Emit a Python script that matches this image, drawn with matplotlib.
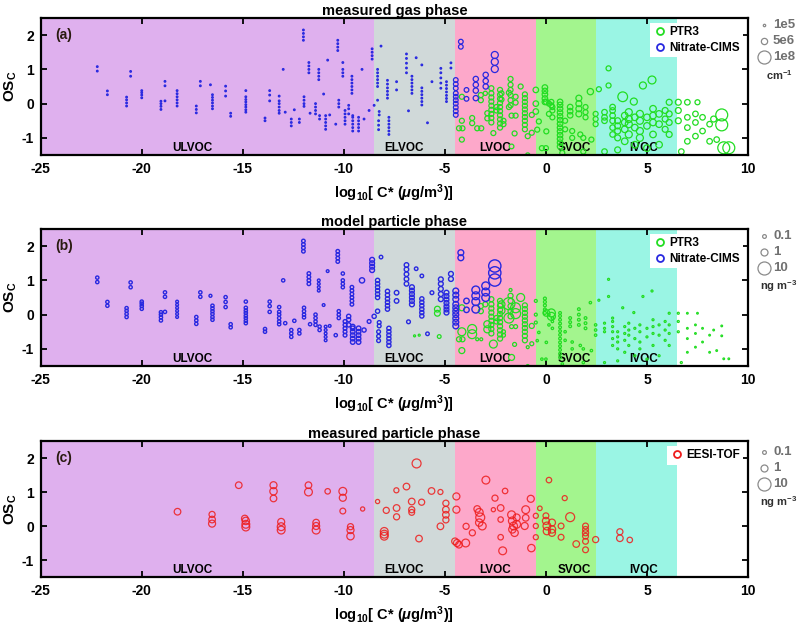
import numpy as np
import matplotlib

matplotlib.use("Agg")  # Non-interactive backend
import matplotlib.pyplot as plt
from matplotlib.lines import Line2D

plt.rcParams["font.family"] = "Liberation Sans"
plt.rcParams["font.weight"] = "bold"
plt.rcParams["axes.unicode_minus"] = False
plt.rcParams["mathtext.fontset"] = "custom"
plt.rcParams["mathtext.rm"] = "Liberation Sans:bold"
plt.rcParams["mathtext.it"] = "Liberation Sans:italic:bold"
plt.rcParams["mathtext.bf"] = "Liberation Sans:bold"

# volatility classes (log10 C* edges)
class_names = ["ULVOC", "ELVOC", "LVOC", "SVOC", "IVOC"]
class_edges = [-25, -8.5, -4.5, -0.5, 2.5, 6.5]
class_colors = ["#dfb0ee", "#d0d9d9", "#fda8ca", "#a3f58e", "#9af5e4"]

panel_titles = ["measured gas phase", "model particle phase", "measured particle phase"]
panel_letters = ["(a)", "(b)", "(c)"]

gas_legend_values = [1e5, 5e6, 1e8]
gas_legend_labels = ["1e5", "5e6", "1e8"]
part_legend_values = [0.1, 1, 10]
part_legend_labels = ["0.1", "1", "10"]

# Nitrate-CIMS: (log10 C*, [OSc ...], gas conc cm-3, model particle ng m-3)
nitrate = [
    (-22.2, [0.95, 1.08], 2e4, 0.06),
    (-21.7, [0.26, 0.37], 2e4, 0.06),
    (-20.75, [-0.07, 0.02, 0.11, 0.19], 2e4, 0.06),
    (-20.55, [0.8, 0.94], 2e4, 0.06),
    (-20.0, [0.17, 0.25, 0.32, 0.38], 2e4, 0.06),
    (-19.05, [-0.17, -0.08, 0.0, 0.07], 2e4, 0.06),
    (-18.85, [0.08, 0.52, 0.65], 2e4, 0.06),
    (-18.25, [-0.07, 0.02, 0.11, 0.2, 0.29, 0.38], 2e4, 0.03),
    (-17.3, [-0.27, -0.17, -0.07], 2e4, 0.06),
    (-17.1, [0.52, 0.65], 2e4, 0.06),
    (-16.6, [0.55], 2e4, 0.04),
    (-16.5, [-0.15, -0.07, 0.02, 0.1, 0.18, 0.26], 2e4, 0.06),
    (-15.85, [0.22, 0.37, 0.51], 2e4, 0.06),
    (-15.6, [-0.37, -0.28], 2e4, 0.06),
    (-14.85, [-0.25, -0.18, -0.1, -0.03, 0.05, 0.12, 0.2, 0.38], 2e4, 0.06),
    (-13.9, [-0.5, -0.42], 2e4, 0.06),
    (-13.67, [0.08, 0.25, 0.38], 2e4, 0.06),
    (-13.2, [-0.28, -0.2, -0.1, 0.0, 0.08, 0.22], 2e4, 0.06),
    (-13.0, [1.0], 2e4, 0.06),
    (-12.9, [-0.25], 2e4, 0.06),
    (-12.6, [-0.65, -0.55, -0.45], 2e4, 0.06),
    (-12.45, [-0.18], 2e4, 0.06),
    (-12.2, [-0.55, -0.45], 2e4, 0.06),
    (-12.0, [1.85, 1.95, 2.05, 2.15], 2e4, 0.08),
    (-11.97, [-0.08, 0.0, 0.1, 0.2], 2e4, 0.06),
    (-11.73, [0.9, 1.0, 1.1, 1.2], 2e4, 0.08),
    (-11.67, [-0.28], 2e4, 0.06),
    (-11.4, [-0.3, -0.2, -0.1, 0.0], 2e4, 0.06),
    (-11.24, [0.7, 0.8, 0.9, 1.0], 2e4, 0.03),
    (-11.2, [-0.45, -0.35], 2e4, 0.06),
    (-11.0, [0.28], 2e4, 0.03),
    (-10.9, [-0.75, -0.65, -0.55, -0.45, -0.35], 2e4, 0.03),
    (-10.8, [1.27], 2e4, 0.03),
    (-10.7, [-0.33], 2e4, 0.03),
    (-10.4, [-0.6], 2e4, 0.06),
    (-10.3, [1.55, 1.65, 1.75, 1.85], 2e4, 0.08),
    (-10.25, [-0.1, 0.0, 0.1], 2e4, 0.06),
    (-10.05, [0.8, 0.9, 1.0, 1.2], 2e4, 0.06),
    (-9.94, [-0.6, -0.5, -0.4, -0.3, -0.2], 2e4, 0.1),
    (-9.76, [-0.3, -0.15, -0.05], 2e4, 0.15),
    (-9.6, [0.3, 0.4, 0.5, 0.6, 0.7, 0.8], 2e4, 0.08),
    (-9.56, [-0.8, -0.7, -0.6, -0.5, -0.4, -0.35], 2e4, 0.2),
    (-9.27, [-0.8, -0.7, -0.6, -0.5, -0.4], 2e4, 0.2),
    (-9.1, [1.0], 2e4, 0.35),
    (-9.0, [-0.45], 2e4, 0.15),
    (-8.75, [-0.2], 2e4, 0.1),
    (-8.6, [1.3, 1.4, 1.5, 1.6], 2e4, 0.25),
    (-8.5, [-0.05], 2e4, 0.15),
    (-8.33, [0.1, 0.5, 0.6, 0.7, 0.8, 0.9, 1.0], 2e4, 0.15),
    (-8.16, [1.68], 2e4, 0.08),
    (-8.25, [-0.33, -0.23], 2e4, 0.1),
    (-8.28, [-0.76, -0.63, -0.5], 2e4, 0.1),
    (-7.84, [0.16, 0.26, 0.36, 0.46, 0.57, 0.68], 2e4, 0.15),
    (-7.77, [-0.9, -0.8, -0.7, -0.6, -0.5, -0.4], 2e4, 0.15),
    (-7.39, [0.4, 0.64], 2e4, 0.2),
    (-6.9, [0.9, 1.04, 1.18, 1.32, 1.45], 2e4, 0.2),
    (-6.8, [-0.21], 2e4, 0.1),
    (-6.63, [0.3, 0.4, 0.5, 0.6, 0.7, 0.8], 2e4, 0.25),
    (-6.42, [1.34], 2e4, 0.08),
    (-6.14, [1.13], 2e4, 0.08),
    (-6.14, [-0.04, 0.06, 0.16, 0.26, 0.36, 0.46], 2e4, 0.15),
    (-5.86, [-0.56], 2e4, 0.08),
    (-5.64, [0.64], 2e4, 0.1),
    (-5.2, [0.45, 0.6, 0.75, 0.9, 1.03], 2e4, 0.25),
    (-4.92, [0.06, 0.15, 0.24, 0.34, 0.44, 0.54, 0.64], 2e4, 0.25),
    (-4.7, [1.04, 1.19], 2e4, 0.25),
    (-4.46, [-0.33, -0.22, -0.11, 0.0, 0.1, 0.2, 0.3, 0.45, 0.57, 0.69], 1.5e6, 0.5),
    (-4.21, [1.66, 1.81], 1.5e6, 0.5),
    (-3.93, [0.14, 0.4], 1.5e6, 0.4),
    (-3.47, [0.16, 0.38, 0.55, 0.72], 2.5e6, 1.5),
    (-2.98, [0.5, 0.66, 0.84], 2.5e6, 1.5),
    (-2.53, [1.01, 1.22, 1.42], 8e6, 8.0),
]

# PTR3: (log10 C*, [OSc ...], gas conc cm-3, model particle ng m-3)
ptr3 = [
    (-6.5, [-0.62], 0, 0.01),
    (-6.27, [-0.6], 0, 0.01),
    (-5.37, [0.04, 0.16], 0, 0.5),
    (-5.28, [-0.64], 0, 0.1),
    (-4.16, [0.2], 2e6, 0.56),
    (-4.16, [-0.5], 2e6, 1.6),
    (-4.3, [-0.72], 2e6, 0.3),
    (-4.13, [-0.72], 2e6, 0.3),
    (-4.16, [-1.05], 2e6, 0.56),
    (-3.65, [-0.42, -0.57], 2e6, 2.5),
    (-3.4, [-0.72], 2e6, 0.04),
    (-3.2, [-0.72], 2e6, 0.04),
    (-3.22, [0.1, 0.25], 2e6, 0.3),
    (-3.0, [0.3], 1e6, 0.3),
    (-2.9, [-0.28, -0.43], 2e6, 1.0),
    (-2.7, [-0.55, -0.42, -0.3, -0.18, -0.06, 0.06, 0.18, 0.3, 0.45], 2e6, 0.3),
    (-2.6, [-0.86], 2e6, 1.6),
    (-2.45, [-0.2, -0.1], 2e6, 0.3),
    (-2.27, [-0.7, -0.58, -0.46, -0.34, -0.22, -0.1, 0.02, 0.14, 0.26, 0.4], 2e6, 0.3),
    (-2.1, [-0.6, -0.5], 2e6, 0.12),
    (-2.2, [0.12, 0.3], 2e6, 1.0),
    (-1.83, [0.32], 2e6, 7.4),
    (-1.83, [-0.1], 2e6, 3.7),
    (-1.75, [0.72], 2e6, 0.04),
    (-1.75, [-0.05, 0.1, 0.25, 0.4, 0.55], 2e6, 0.3),
    (-1.7, [-0.35], 2e6, 0.12),
    (-1.5, [-0.35], 2e6, 0.12),
    (-1.5, [0.03, 0.2], 2e6, 3.7),
    (-1.7, [-1.25], 1.5e6, 0.56),
    (-1.55, [-0.87], 2e6, 0.12),
    (-1.25, [0.5], 2e6, 1.6),
    (-1.04, [-0.75, -0.62, -0.5, -0.39, -0.28, -0.17, -0.06, 0.05, 0.16, 0.27], 2e6, 0.3),
    (-0.9, [-0.95], 2e6, 0.04),
    (-0.9, [-1.5], 1e6, 0.04),
    (-0.7, [-0.33], 2e6, 0.3),
    (-0.7, [-0.85], 2e6, 0.12),
    (-0.5, [0.4, 0.0, -0.23], 3e6, 0.04),
    (-0.35, [-0.52], 2e6, 0.02),
    (-0.43, [-0.76], 2e6, 0.02),
    (-0.2, [-1.3], 2e6, 0.02),
    (0.0, [-1.3], 2e6, 0.02),
    (-0.05, [0.05, 0.15, 0.27, 0.37, 0.47], 3e6, 0.04),
    (0.02, [0.05], 3e6, 0.8),
    (0.15, [0.0, -0.3], 2e6, 0.02),
    (0.27, [0.05, -0.05], 2e6, 1.6),
    (0.32, [-0.1, -0.2, -0.4], 2e6, 0.02),
    (0.02, [-0.81], 2e6, 0.02),
    (0.7, [-1.25, -1.14, -1.03, -0.92, -0.81, -0.7, -0.59, -0.48, -0.37, -0.26, -0.15, -0.04, 0.05], 3e6, 0.03),
    (0.95, [-0.5, -0.75], 2e6, 0.02),
    (0.81, [-1.44], 2e6, 0.02),
    (1.2, [-0.1, -0.22, -0.34], 3e6, 0.03),
    (1.3, [-0.8, -1.0], 2e6, 0.02),
    (1.63, [0.16, 0.0, -0.15, -0.3], 4e6, 0.03),
    (1.7, [-0.9], 2e6, 0.02),
    (1.85, [-1.0, -1.4], 2e6, 0.02),
    (1.96, [-0.1, -0.25, -0.4], 2e6, 0.03),
    (2.2, [0.35], 5e6, 0.02),
    (2.25, [-1.05], 2e6, 0.02),
    (2.46, [-0.3, -0.45, -0.6], 2e6, 0.02),
    (2.62, [0.42], 2e6, 0.01),
    (3.1, [1.03], 2e6, 0.01),
    (3.1, [0.53], 2e6, 0.01),
    (2.9, [-0.25, -0.4, -0.5, -1.4], 3e6, 0.01),
    (3.3, [-0.1, -0.2, -0.35, -0.5, -0.7, -0.9], 3e6, 0.01),
    (3.55, [-0.5, -0.65, -0.8, -1.0, -1.35], 4e6, 0.01),
    (3.8, [0.2], 3e7, 0.01),
    (3.9, [-0.35, -0.55, -0.75, -1.1], 6e6, 0.01),
    (4.1, [-0.25, -0.45, -0.6, -0.9], 8e6, 0.01),
    (4.35, [0.06], 8e6, 0.01),
    (4.4, [-0.4, -0.7, -1.2], 6e6, 0.01),
    (4.65, [-0.3, -0.5, -0.8, -1.0], 8e6, 0.01),
    (4.8, [0.53], 8e6, 0.01),
    (5.0, [-0.4, -0.65, -1.3], 6e6, 0.01),
    (5.25, [0.69], 1.3e7, 0.01),
    (5.3, [-0.15, -0.35, -0.55, -0.9], 6e6, 0.01),
    (5.6, [-0.3, -0.6, -1.2], 6e6, 0.01),
    (5.9, [-0.2, -0.45, -0.75], 4e6, 0.01),
    (6.1, [0.04, -0.3, -0.55, -0.9], 4e6, 0.01),
    (6.55, [0.04, -0.2, -0.5], 4e6, 0.01),
    (6.7, [-1.4], 3e6, 0.01),
    (7.0, [0.04, -0.4, -0.7, -1.1], 3e6, 0.005),
    (7.5, [0.04], 2e6, 0.005),
    (7.4, [-0.3, -0.55, -0.95], 3e6, 0.005),
    (7.75, [-0.4, -0.8], 3e6, 0.005),
    (8.1, [-0.6, -1.1], 3e6, 0.005),
    (8.3, [-0.45], 4e6, 0.005),
    (8.7, [-0.33], 7e7, 0.005),
    (8.7, [-0.62], 7e7, 0.005),
    (8.45, [-1.05], 3e6, 0.005),
    (8.8, [-1.29], 7e7, 0.005),
    (9.05, [-1.29], 7e7, 0.005),
]

# EESI-TOF measured particle phase: log10 C*, OSc, conc (ng m-3)
eesi_logc = [
    -18.23, -16.52, -16.52, -16.52, -15.2, -14.9, -14.85, -14.85, -14.85,
    -13.48, -13.48, -13.48, -13.1, -13.1, -13.1, -11.75, -11.75, -11.37, -11.37, -11.37,
    -10.8, -10.05, -10.05, -10.05, -9.67, -9.67, -9.67, -9.07, -8.33, -8.0, -8.0, -8.0,
    -7.9, -7.4, -7.39, -7.39, -6.9, -6.64, -6.64, -6.64, -6.4, -6.28, -6.15, -5.66,
    -5.22, -5.22, -4.95, -4.95, -4.95, -4.95, -4.43, -4.43, -4.5, -4.4, -4.3, -3.97,
    -3.95, -3.64, -2.97, -3.4, -3.3, -3.25, -3.3, -3.15, -2.6, -2.52, -2.24, -2.24,
    -2.24, -2.14, -2.02, -1.7, -1.66, -1.6, -1.66, -1.55, -1.45, -1.45, -1.0, -1.0,
    -1.05, -0.75, -0.72, -0.5, -0.5, -0.5, -0.3, 0.15, 0.93, 0.0, 0.0, 0.05, 0.05,
    0.3, 0.3, 0.3, 0.75, 0.75, 1.2, 1.5, 1.96, 1.96, 1.96, 1.96, 1.96, 1.96, 2.46,
    3.66, 3.66, 4.15,
]
eesi_osc = [
    0.42, 0.34, 0.19, 0.07, 1.2, 0.22, 0.15, 0.05, -0.03,
    1.2, 1.02, 0.81, 0.12, -0.02, -0.12, 1.2, 1.0, 0.1, 0.0, -0.12,
    1.02, 1.02, 0.83, 0.44, -0.02, -0.12, -0.3, 0.5, 0.72, -0.16, -0.24, -0.3,
    0.46, 1.05, 0.53, 0.27, 1.16, 0.72, 0.48, 0.4, 1.84, -0.37, 0.7, 1.03,
    1.0, -0.01, 0.67, 0.48, 0.33, 0.18, 0.87, 0.48, -0.45, -0.5, -0.55, -0.5,
    -0.01, -0.2, 1.35, 0.5, 0.4, 0.25, 0.1, 0.0, 0.48, 0.82, 0.53, 0.19,
    -0.33, -0.73, 1.03, 0.33, 0.15, 0.0, -0.1, -0.2, 0.25, 0.05, 0.48, 0.24,
    0.0, 0.8, -0.65, 0.3, 0.0, -0.33, 0.52, 1.35, 0.82, 0.3, 0.15, 0.0, -0.15,
    0.1, -0.1, -0.2, 0.0, -0.33, 0.26, -0.53, 0.0, -0.1, -0.2, -0.3, -0.45, -0.7, -0.4,
    -0.17, -0.36, -0.41,
]
eesi_conc = [
    0.8, 0.6, 0.8, 1.0, 0.8, 0.8, 1.2, 1.5, 1.5,
    1.0, 1.2, 0.8, 1.0, 1.5, 1.5, 0.8, 1.5, 0.8, 1.0, 1.5,
    0.4, 1.5, 1.0, 0.5, 0.6, 1.0, 1.2, 0.15, 0.15, 1.5, 1.5, 1.5,
    0.6, 0.3, 0.8, 0.6, 0.8, 0.8, 0.6, 0.5, 2.5, 0.8, 0.6, 0.8,
    0.3, 0.8, 0.6, 0.8, 0.8, 0.6, 1.0, 1.0, 0.8, 1.0, 0.8, 1.5,
    0.6, 0.6, 1.5, 0.8, 1.5, 2.5, 1.2, 1.5, 0.15, 0.6, 0.8, 0.4,
    0.4, 1.5, 0.4, 1.5, 1.5, 1.5, 1.2, 1.2, 1.0, 1.5, 1.5, 0.8,
    1.0, 1.0, 1.2, 0.3, 0.3, 0.3, 0.2, 0.4, 0.3, 0.5, 1.0, 1.5, 1.2,
    1.0, 1.2, 1.0, 0.5, 0.5, 2.5, 0.8, 0.5, 0.5, 0.6, 0.5, 0.5, 0.5, 0.6,
    0.6, 0.8, 0.4,
]

GREEN = "#22dd22"
BLUE = "#2828e0"
RED = "#ee1c1c"
FIG_W, FIG_H = 798, 628
DPI = 100


def gas_area(c):
    # circle radius in pixels grows with concentration
    r = 1.2 * (np.asarray(c, dtype=float) / 1e5) ** 0.245
    return (2 * r * 72 / DPI) ** 2


def part_area(c):
    r = 3.5 * np.asarray(c, dtype=float) ** 0.27
    return (2 * r * 72 / DPI) ** 2


def expand(stacks):
    xs, ys, gas, part = [], [], [], []
    for x, osc, g, p in stacks:
        for y in osc:
            xs.append(x)
            ys.append(y)
            gas.append(g)
            part.append(p)
    return np.array(xs), np.array(ys), np.array(gas), np.array(part)


def fig_pos(px, py):
    return px / FIG_W, 1 - py / FIG_H


def setup_axes(ax, title, letter):
    for i, name in enumerate(class_names):
        ax.axvspan(class_edges[i], class_edges[i + 1], color=class_colors[i], lw=0, zorder=0)
    label_x = [-17.5, -7.0, -2.5, 1.4, 4.85]
    for name, lx in zip(class_names, label_x):
        ax.text(lx, -1.3, name, ha="center", va="center", fontsize=8.5, fontweight="bold", zorder=1)
    ax.text(-24.3, 2.0, letter, ha="left", va="center", fontsize=10, fontweight="bold", color="#2a1a10")
    ax.set_xlim(-25, 10)
    ax.set_ylim(-1.5, 2.5)
    ax.set_xticks(np.arange(-25, 11, 5))
    ax.set_yticks([-1, 0, 1, 2])
    ax.tick_params(direction="in", top=True, right=True, length=4, width=1.3,
                   labelsize=10, pad=5)
    for lab in ax.get_xticklabels() + ax.get_yticklabels():
        lab.set_fontweight("bold")
    for sp in ax.spines.values():
        sp.set_linewidth(1.6)
        sp.set_zorder(5)
    ax.set_title(title, fontsize=10.5, fontweight="bold", pad=2)
    ax.set_xlabel(r"log$_{10}$[ C* ($\mu$g/m$^3$)]", fontsize=10.5, fontweight="bold", labelpad=5)
    ax.set_ylabel(r"OS$_\mathrm{C}$", fontsize=11, fontweight="bold")
    ax.yaxis.set_label_coords(-0.03, 0.5)


def size_legend(fig, values, labels, unit, area_fn, top_py):
    for i, (v, lab) in enumerate(zip(values, labels)):
        py = top_py + 16 * i
        x0, y0 = fig_pos(764, py)
        fig.add_artist(Line2D([x0], [y0], marker="o", ls="none", mfc="none", mec="#8a8a8a",
                              mew=0.9, markersize=np.sqrt(area_fn(v)), transform=fig.transFigure))
        x1, _ = fig_pos(773, py)
        fig.text(x1, y0, lab, ha="left", va="center", fontsize=9.5, fontweight="bold", color="#707070")
    xu, yu = fig_pos(779, top_py + 50)
    fig.text(xu, yu, unit, ha="center", va="center", fontsize=8, fontweight="bold", color="#303030")


def main():
    fig = plt.figure(figsize=(FIG_W / DPI, FIG_H / DPI), dpi=DPI)
    left, width = 40.7 / FIG_W, (748 - 40.7) / FIG_W
    tops = [18, 229, 441]
    bottoms = [155, 366, 577]
    axes = []
    for t, b in zip(tops, bottoms):
        axes.append(fig.add_axes([left, 1 - b / FIG_H, width, (b - t) / FIG_H]))

    nx, ny, ngas, npart = expand(nitrate)
    px_, py_, pgas, ppart = expand(ptr3)

    # (a) measured gas phase
    ax = axes[0]
    setup_axes(ax, panel_titles[0], panel_letters[0])
    m = pgas > 0
    ax.scatter(px_[m], py_[m], s=gas_area(pgas[m]), facecolors="none", edgecolors=GREEN,
               linewidths=0.9, zorder=2)
    ax.scatter(nx, ny, s=gas_area(ngas), facecolors="none", edgecolors=BLUE,
               linewidths=0.9, zorder=3)

    # (b) model particle phase
    ax = axes[1]
    setup_axes(ax, panel_titles[1], panel_letters[1])
    ax.scatter(px_, py_, s=part_area(ppart), facecolors="none", edgecolors=GREEN,
               linewidths=0.9, zorder=2)
    ax.scatter(nx, ny, s=part_area(npart), facecolors="none", edgecolors=BLUE,
               linewidths=1.0, zorder=3)

    # (c) measured particle phase
    ax = axes[2]
    setup_axes(ax, panel_titles[2], panel_letters[2])
    ax.scatter(eesi_logc, eesi_osc, s=part_area(eesi_conc), facecolors="none", edgecolors=RED,
               linewidths=0.9, alpha=0.85, zorder=2)

    # instrument legends
    handles = [
        Line2D([], [], marker="o", ls="none", mfc="none", mec=GREEN, mew=1.3, markersize=5, label="PTR3"),
        Line2D([], [], marker="o", ls="none", mfc="none", mec=BLUE, mew=1.3, markersize=5, label="Nitrate-CIMS"),
    ]
    for ax in axes[:2]:
        leg = ax.legend(handles=handles, loc="upper right", fontsize=8.5, frameon=True, fancybox=False,
                        edgecolor="none", framealpha=1, handletextpad=0.3, handlelength=1.0,
                        borderaxespad=0.4, borderpad=0.3, labelspacing=0.3)
        for t in leg.get_texts():
            t.set_fontweight("bold")
        leg.set_zorder(6)
    leg = axes[2].legend(handles=[Line2D([], [], marker="o", ls="none", mfc="none", mec=RED, mew=1.3,
                                         markersize=5, label="EESI-TOF")],
                         loc="upper right", fontsize=8.5, frameon=True, fancybox=False, edgecolor="none",
                         framealpha=1, handletextpad=0.3, handlelength=1.0, borderaxespad=0.4, borderpad=0.3)
    for t in leg.get_texts():
        t.set_fontweight("bold")
    leg.set_zorder(6)

    # size legends outside the right edge
    size_legend(fig, gas_legend_values, gas_legend_labels, r"cm$^{-1}$", gas_area, 25)
    size_legend(fig, part_legend_values, part_legend_labels, r"ng m$^{-3}$", part_area, 236)
    size_legend(fig, part_legend_values, part_legend_labels, r"ng m$^{-3}$", part_area, 452)

    fig.savefig("out.png", dpi=DPI)


if __name__ == "__main__":
    main()
